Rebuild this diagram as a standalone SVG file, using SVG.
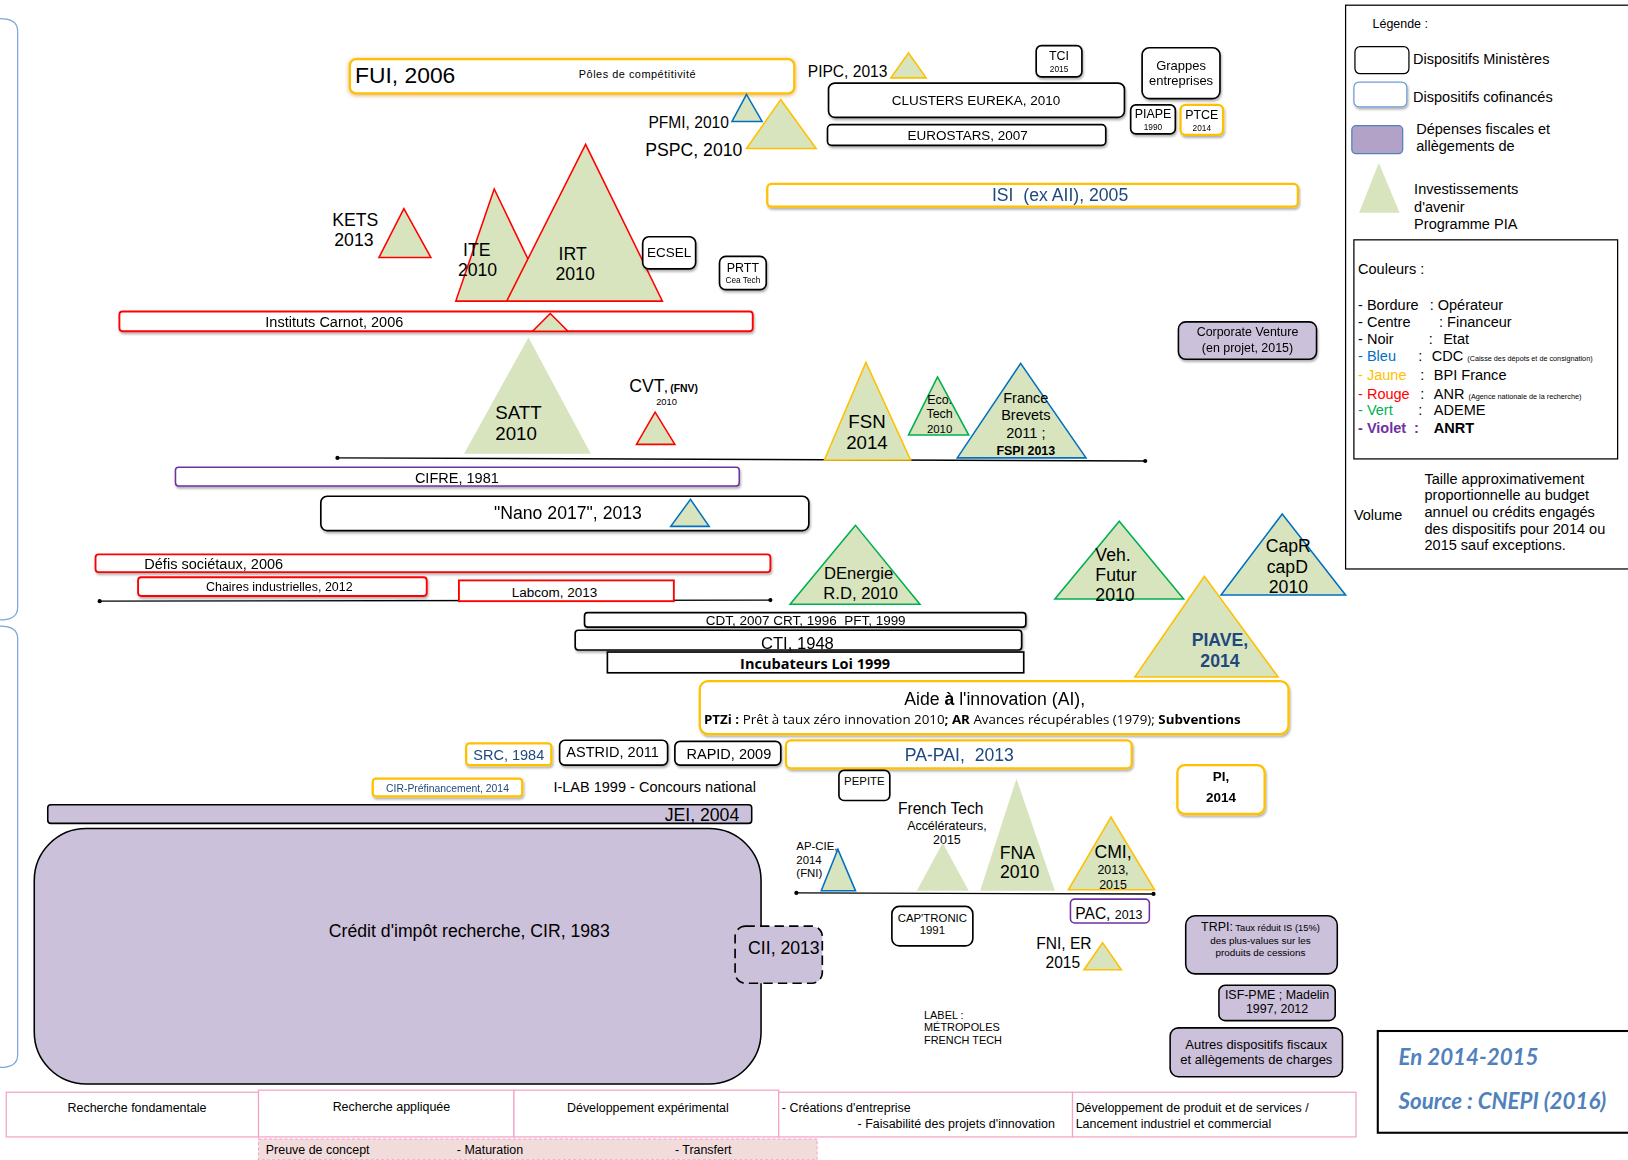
<svg xmlns="http://www.w3.org/2000/svg" width="1628" height="1160" viewBox="0 0 1628 1160">
<defs>
<filter id="sh" x="-10%" y="-30%" width="120%" height="170%"><feDropShadow dx="1" dy="2" stdDeviation="1.2" flood-color="#000" flood-opacity="0.3"/></filter>
<filter id="glow" x="-5%" y="-30%" width="110%" height="160%"><feDropShadow dx="0" dy="1" stdDeviation="2" flood-color="#d08a30" flood-opacity="0.7"/></filter>
</defs>
<style>
.m{text-anchor:middle}
.e{text-anchor:end}
.pre{white-space:pre}
.box{fill:#fff;stroke:#000;stroke-width:1.6}
.yb{fill:#fff;stroke:#ffc000;stroke-width:2.2}
.rb{fill:#fff;stroke:#ff0000;stroke-width:1.8}
.pb{fill:#fff;stroke:#7030a0;stroke-width:1.5}
.fisc{fill:#ccc1da;stroke:#000;stroke-width:1.5}
.tri{fill:#d7e4bd}
.tr{stroke:#ff0000;stroke-width:1.5}
.ty{stroke:#ffc000;stroke-width:1.5}
.tb{stroke:#0070c0;stroke-width:1.5}
.tg{stroke:#00b050;stroke-width:1.5}
.line{stroke:#000;stroke-width:1.3;fill:none}
.dot{fill:#000}
.phase{fill:#fff;stroke:#f4a3c8;stroke-width:1.2}
.db{fill:#1f497d}
.brk{fill:none;stroke:#7fa6d9;stroke-width:1.2}
.b{font-weight:bold}
.src{font-family:Lato,sans-serif;font-weight:bold;font-style:italic;fill:#4f81bd;font-size:21.5px}
.os{font-family:"Open Sans",sans-serif}
</style>
<rect width="1628" height="1160" fill="#fff"/>
<g transform="scale(1.03827)" font-family="Liberation Sans, Arial, sans-serif" fill="#000">

<g id="brackets">
<path class="brk" d="M0 18 Q17 18 17 30 L17 585 Q17 597 0 597"/>
<path class="brk" d="M0 603 Q17 603 17 615 L17 1016 Q17 1028 0 1028"/>
</g>

<g id="connectors">
<line class="line" x1="325" y1="441" x2="1103" y2="444"/><circle class="dot" cx="325" cy="441" r="2"/><circle class="dot" cx="1103" cy="444" r="2"/>
<line class="line" x1="96" y1="579" x2="742" y2="578"/><circle class="dot" cx="96" cy="579" r="2"/><circle class="dot" cx="742" cy="578" r="2"/>
<line class="line" x1="767" y1="860" x2="1111" y2="861"/><circle class="dot" cx="767" cy="860" r="2"/><circle class="dot" cx="1111" cy="861" r="2"/>
</g>

<g id="fui"><rect x="337" y="57" width="428" height="33" rx="6" class="yb" filter="url(#glow)"/>
<text x="342" y="80" font-size="22">FUI, 2006</text>
<text x="614" y="75" font-size="10.5" class="m" letter-spacing="0.5">Pôles de compétitivité</text></g>

<g id="pipc"><text x="778" y="74" font-size="15">PIPC, 2013</text>
<polygon class="tri ty" points="875,51 858,75 892,75"/></g>

<g id="tci" filter="url(#sh)"><rect x="998" y="44" width="44" height="30" rx="5" class="box"/>
<text x="1020" y="58" font-size="12" class="m">TCI</text><text x="1020" y="69" font-size="8" class="m">2015</text></g>

<g id="grappes" filter="url(#sh)"><rect x="1100" y="46" width="75" height="49" rx="7" class="box"/>
<text x="1137.5" y="67" font-size="12.5" class="m">Grappes</text><text x="1137.5" y="82" font-size="12.5" class="m">entreprises</text></g>

<g id="clusters" filter="url(#sh)"><rect x="798" y="80" width="285" height="33" rx="6" class="box"/>
<text x="940" y="101" font-size="13" class="m">CLUSTERS EUREKA, 2010</text></g>

<g id="piape" filter="url(#sh)"><rect x="1089" y="101" width="43" height="28" rx="5" class="box"/>
<text x="1110.5" y="114" font-size="12" class="m">PIAPE</text><text x="1110.5" y="125" font-size="8" class="m">1990</text></g>

<g id="ptce" filter="url(#sh)"><rect x="1137" y="101" width="41" height="29" rx="5" class="yb"/>
<text x="1157.5" y="115" font-size="12" class="m">PTCE</text><text x="1157.5" y="126" font-size="8" class="m">2014</text></g>

<g id="eurostars" filter="url(#sh)"><rect x="797" y="120" width="268" height="20" rx="4" class="box"/>
<text x="932" y="135" font-size="13" class="m">EUROSTARS, 2007</text></g>

<g id="pfmi"><polygon class="tri tb" points="719,91 705,117 734,117"/>
<text x="702" y="123" font-size="15" class="e">PFMI, 2010</text></g>

<g id="pspc"><polygon class="tri ty" points="752,96 719,143 786,143"/>
<text x="715" y="150" font-size="17" class="e">PSPC, 2010</text></g>

<g id="isi" filter="url(#sh)"><rect x="739" y="177" width="511" height="22" rx="4" class="yb"/>
<text x="1021" y="194" font-size="17" class="m db pre">ISI  (ex AII), 2005</text></g>

<g id="kets"><polygon class="tri tr" points="389,201 365,248 415,248"/>
<text x="320" y="218" font-size="17">KETS</text><text x="322" y="237" font-size="17">2013</text></g>

<g id="ite"><polygon class="tri tr" points="476,182 439,290 528,290"/>
<text x="446" y="247" font-size="17">ITE</text><text x="441" y="266" font-size="17">2010</text></g>

<g id="irt"><polygon class="tri tr" points="564,139 488,290 638,290"/>
<text x="538" y="250" font-size="17">IRT</text><text x="535" y="270" font-size="17">2010</text></g>

<g id="ecsel" filter="url(#sh)"><rect x="619" y="228" width="51" height="31" rx="6" class="box"/>
<text x="644.5" y="248" font-size="13" class="m">ECSEL</text></g>

<g id="prtt" filter="url(#sh)"><rect x="693" y="247" width="45" height="32" rx="6" class="box"/>
<text x="715.5" y="262" font-size="12" class="m">PRTT</text><text x="715.5" y="273" font-size="8" class="m">Cea Tech</text></g>

<g id="carnot" filter="url(#sh)"><rect x="115" y="300" width="610" height="19" rx="3" class="rb"/>
<text x="322" y="315" font-size="14" class="m">Instituts Carnot, 2006</text>
<polygon class="tri tr" points="530,302 513,319 547,319"/></g>

<g id="satt"><polygon class="tri" points="509,325 447,437 569,437"/>
<text x="477" y="404" font-size="18">SATT</text><text x="477" y="424" font-size="18">2010</text></g>

<g id="cvt"><text x="606" y="378" font-size="17">CVT<tspan font-size="10" font-weight="bold">, (FNV)</tspan></text>
<text x="642" y="390" font-size="9" class="m">2010</text>
<polygon class="tri tr" points="631,397 613,428 650,428"/></g>

<g id="fsn"><polygon class="tri ty" points="834,349 794,443 877,443"/>
<text x="835" y="412" font-size="18" class="m">FSN</text><text x="835" y="432" font-size="18" class="m">2014</text></g>

<g id="ecotech"><polygon class="tri tg" points="903,363 875,419 933,419"/>
<text x="905" y="389" font-size="12" class="m">Eco.</text><text x="905" y="403" font-size="12" class="m">Tech</text><text x="905" y="417" font-size="11" class="m">2010</text></g>

<g id="francebrevets"><polygon class="tri tb" points="983,350 922,441 1046,441"/>
<text x="988" y="388" font-size="14" class="m">France</text><text x="988" y="405" font-size="14" class="m">Brevets</text><text x="988" y="422" font-size="14" class="m">2011 ;</text>
<text x="988" y="438" font-size="12" class="m b">FSPI 2013</text></g>

<g id="corporate" filter="url(#sh)"><rect x="1135" y="310" width="133" height="36" rx="7" class="fisc"/>
<text x="1201.5" y="324" font-size="12" class="m">Corporate Venture</text><text x="1201.5" y="339" font-size="12" class="m">(en projet, 2015)</text></g>

<g id="cifre" filter="url(#sh)"><rect x="169" y="450" width="543" height="18" rx="3" class="pb"/>
<text x="440" y="465" font-size="14" class="m">CIFRE, 1981</text></g>

<g id="nano" filter="url(#sh)"><rect x="309" y="478" width="470" height="33" rx="6" class="box"/>
<text x="547" y="500" font-size="17" class="m">"Nano 2017", 2013</text>
<polygon class="tri tb" points="665,481 646,507 683,507"/></g>

<g id="defis" filter="url(#sh)"><rect x="92" y="534" width="650" height="17" rx="3" class="rb"/>
<text x="139" y="548" font-size="14">Défis sociétaux, 2006</text></g>

<g id="chaires" filter="url(#sh)"><rect x="133" y="556" width="278" height="18" rx="3" class="rb"/>
<text x="269" y="569" font-size="12" class="m">Chaires industrielles, 2012</text></g>

<g id="labcom"><rect x="442" y="559" width="207" height="20" class="rb"/>
<text x="534" y="575" font-size="13" class="m">Labcom, 2013</text></g>

<g id="denergie"><polygon class="tri tg" points="824,506 761,582 886,582"/>
<text x="827" y="558" font-size="16" class="m">DEnergie</text><text x="829" y="577" font-size="16" class="m">R.D, 2010</text></g>

<g id="cdt" filter="url(#sh)"><rect x="563" y="590" width="425" height="14" rx="3" class="box"/>
<text x="776" y="602" font-size="13" class="m pre">CDT, 2007 CRT, 1996  PFT, 1999</text></g>

<g id="cti" filter="url(#sh)"><rect x="554" y="607" width="430" height="19" rx="3" class="box"/>
<text x="768" y="625" font-size="16" class="m">CTI, 1948</text></g>

<g id="incub"><rect x="585" y="628" width="401" height="20" class="box"/>
<text x="785" y="644" font-size="14" class="m b os">Incubateurs Loi 1999</text></g>

<g id="vehfutur"><polygon class="tri tg" points="1078,502 1016,577 1140,577"/>
<text x="1055" y="540" font-size="17">Veh.</text><text x="1055" y="560" font-size="17">Futur</text><text x="1055" y="579" font-size="17">2010</text></g>

<g id="capr"><polygon class="tri tb" points="1235,495 1176,573 1296,573"/>
<text x="1219" y="532" font-size="17">CapR</text><text x="1220" y="552" font-size="17">capD</text><text x="1222" y="571" font-size="17">2010</text></g>

<g id="piave"><polygon class="tri ty" points="1160,555 1093,652 1231,652"/>
<text x="1175" y="622" font-size="17" class="m b db">PIAVE,</text><text x="1175" y="642" font-size="17" class="m b db">2014</text></g>

<g id="aide" filter="url(#sh)"><rect x="674" y="656" width="567" height="51" rx="8" class="yb"/>
<text x="958" y="679" font-size="17" class="m">Aide <tspan font-weight="bold">à</tspan> l'innovation (AI),</text>
<text x="678" y="697" font-size="11.5" class="os" textLength="517" lengthAdjust="spacingAndGlyphs"><tspan font-weight="bold">PTZi :</tspan> Prêt à taux zéro innovation 2010<tspan font-weight="bold">; AR</tspan> Avances récupérables (1979); <tspan font-weight="bold">Subventions</tspan></text></g>

<g id="src" filter="url(#sh)"><rect x="449" y="716" width="82" height="21" rx="3" class="yb"/>
<text x="490" y="732" font-size="14" class="m db">SRC, 1984</text></g>

<g id="astrid" filter="url(#sh)"><rect x="539" y="713" width="104" height="24" rx="5" class="box"/>
<text x="590" y="729" font-size="14" class="m">ASTRID, 2011</text></g>

<g id="rapid" filter="url(#sh)"><rect x="650" y="714" width="102" height="23" rx="5" class="box"/>
<text x="702" y="731" font-size="14" class="m">RAPID, 2009</text></g>

<g id="papai" filter="url(#sh)"><rect x="757" y="713" width="333" height="27" rx="5" class="yb"/>
<text x="924" y="733" font-size="17" class="m db pre">PA-PAI,  2013</text></g>

<g id="cirpre" filter="url(#sh)"><rect x="359" y="750" width="144" height="17" rx="3" class="yb" stroke-width="1.6"/>
<text x="431" y="763" font-size="10" class="m db">CIR-Préfinancement, 2014</text></g>

<g id="ilab"><text x="533" y="763" font-size="14">I-LAB 1999 - Concours national</text></g>

<g id="pepite"><rect x="808" y="742" width="49" height="29" rx="5" class="box"/>
<text x="832.5" y="756" font-size="11" class="m">PEPITE</text></g>

<g id="pi" filter="url(#sh)"><rect x="1134" y="737" width="84" height="47" rx="7" class="yb"/>
<text x="1176" y="752" font-size="13" class="m b">PI,</text><text x="1176" y="772" font-size="13" class="m b">2014</text></g>

<g id="jei"><rect x="46" y="775" width="678" height="18" rx="3" class="fisc"/>
<text x="712" y="791" font-size="17" class="e">JEI, 2004</text></g>

<g id="cir"><rect x="33" y="798" width="700" height="246" rx="50" class="fisc"/>
<text x="452" y="902" font-size="17" class="m">Crédit d'impôt recherche, CIR, 1983</text></g>

<g id="cii"><rect x="708" y="892" width="84" height="55" rx="10" fill="#ccc1da" stroke="#000" stroke-width="1.6" stroke-dasharray="9,5"/>
<text x="755" y="919" font-size="17" class="m">CII, 2013</text></g>

<g id="frenchtech"><text x="906" y="784" font-size="15" class="m">French Tech</text>
<text x="912" y="799" font-size="12" class="m">Accélérateurs,</text><text x="912" y="813" font-size="12" class="m">2015</text>
<polygon class="tri" points="908,812 883,858 933,858"/></g>

<g id="fna"><polygon class="tri" points="979,750 944,858 1016,858"/>
<text x="980" y="827" font-size="17" class="m">FNA</text><text x="982" y="846" font-size="17" class="m">2010</text></g>

<g id="cmi"><polygon class="tri ty" points="1070,787 1029,857 1112,857"/>
<text x="1072" y="826" font-size="17" class="m">CMI,</text><text x="1072" y="842" font-size="12" class="m">2013,</text><text x="1072" y="856" font-size="12" class="m">2015</text></g>

<g id="apcie"><polygon class="tri tb" points="807,818 791,858 824,858"/>
<text x="767" y="819" font-size="11">AP-CIE,</text><text x="767" y="832" font-size="11">2014</text><text x="767" y="845" font-size="11">(FNI)</text></g>

<g id="captronic"><rect x="859" y="873" width="78" height="38" rx="7" class="box"/>
<text x="898" y="888" font-size="11" class="m">CAP'TRONIC</text><text x="898" y="900" font-size="11" class="m">1991</text></g>

<g id="pac"><rect x="1031" y="866" width="76" height="23" rx="4" class="pb"/>
<text x="1068" y="885" font-size="15" class="m">PAC, <tspan font-size="12">2013</tspan></text></g>

<g id="fnier"><text x="998" y="914" font-size="15">FNI, ER</text><text x="1007" y="932" font-size="15">2015</text>
<polygon class="tri ty" points="1062,908 1044,934 1080,934"/></g>

<g id="trpi"><rect x="1142" y="882" width="146" height="56" rx="9" class="fisc"/>
<text x="1214" y="897" font-size="9" class="m"><tspan font-size="12">TRPI:</tspan> Taux réduit IS (15%)</text>
<text x="1214" y="909" font-size="9.5" class="m">des plus-values sur les</text>
<text x="1214" y="921" font-size="9.5" class="m">produits de cessions</text></g>

<g id="isfpme"><rect x="1174" y="949" width="112" height="34" rx="6" class="fisc"/>
<text x="1230" y="962" font-size="12" class="m">ISF-PME ; Madelin</text><text x="1230" y="976" font-size="12" class="m">1997, 2012</text></g>

<g id="autres"><rect x="1127" y="990" width="166" height="47" rx="8" class="fisc"/>
<text x="1210" y="1010" font-size="12.5" class="m">Autres dispositifs fiscaux</text><text x="1210" y="1025" font-size="12.5" class="m">et allègements de charges</text></g>

<g id="label"><text x="890" y="981" font-size="10.5">LABEL :</text><text x="890" y="993" font-size="10.5">MÉTROPOLES</text><text x="890" y="1006" font-size="10.5">FRENCH TECH</text></g>

<g id="phases">
<rect x="6" y="1052" width="243" height="43" class="phase"/>
<text x="132" y="1071" font-size="12" class="m">Recherche fondamentale</text>
<rect x="249" y="1050" width="246" height="45" class="phase"/>
<text x="377" y="1070" font-size="12" class="m">Recherche appliquée</text>
<rect x="495" y="1050" width="255" height="45" class="phase" stroke="#d9a0a8"/>
<text x="624" y="1071" font-size="12" class="m">Développement expérimental</text>
<rect x="750" y="1052" width="283" height="43" class="phase"/>
<text x="753" y="1071" font-size="12">- Créations d'entreprise</text>
<text x="1016" y="1086" font-size="12" class="e">- Faisabilité des projets d'innovation</text>
<rect x="1033" y="1052" width="273" height="43" class="phase"/>
<text x="1036" y="1071" font-size="12">Développement de produit et de services /</text>
<text x="1036" y="1086" font-size="12">Lancement industriel et commercial</text>
<rect x="249" y="1097" width="538" height="20" fill="#f2dcdb" stroke="#f4a3c8" stroke-width="1" stroke-dasharray="3,2"/>
<text x="256" y="1111" font-size="12">Preuve de concept</text>
<text x="440" y="1111" font-size="12">- Maturation</text>
<text x="650" y="1111" font-size="12">- Transfert</text>
</g>

<g id="source"><rect x="1327" y="993" width="270" height="98" fill="#fff" stroke="#000" stroke-width="2"/>
<text x="1347" y="1026" class="src">En 2014-2015</text>
<text x="1347" y="1068" class="src">Source : CNEPI (2016)</text></g>

<g id="legend">
<rect x="1296" y="5" width="290" height="543" fill="#fff" stroke="#000" stroke-width="1.2"/>
<text x="1322" y="27" font-size="12">Légende :</text>
<rect x="1305" y="45" width="52" height="26" rx="5" fill="#fff" stroke="#000" stroke-width="1.2"/>
<text x="1361" y="62" font-size="14">Dispositifs Ministères</text>
<rect x="1304" y="79" width="51" height="24" rx="5" fill="#fff" stroke="#6d9bd5" stroke-width="1.2" filter="url(#sh)"/>
<text x="1361" y="98" font-size="14">Dispositifs cofinancés</text>
<rect x="1302" y="121" width="49" height="27" rx="4" fill="#b3a2c7" stroke="#4f81bd" stroke-width="1.2"/>
<text x="1364" y="129" font-size="14">Dépenses fiscales et</text>
<text x="1364" y="145" font-size="14">allègements de</text>
<polygon class="tri" points="1328,157 1309,205 1348,205"/>
<text x="1362" y="187" font-size="14">Investissements</text>
<text x="1362" y="204" font-size="14">d'avenir</text>
<text x="1362" y="221" font-size="14">Programme PIA</text>
<rect x="1304" y="231" width="254" height="211" fill="#fff" stroke="#000" stroke-width="1.2"/>
<text x="1308" y="264" font-size="14">Couleurs :</text>
<text x="1308" y="299" font-size="14">- Bordure <tspan x="1377">: Opérateur</tspan></text>
<text x="1308" y="315" font-size="14">- Centre <tspan x="1386">: Financeur</tspan></text>
<text x="1308" y="331" font-size="14">- Noir <tspan x="1376">:</tspan><tspan x="1390">Etat</tspan></text>
<text x="1308" y="348" font-size="14"><tspan fill="#0070c0">- Bleu</tspan><tspan x="1366">:</tspan><tspan x="1379">CDC </tspan><tspan font-size="7">(Caisse des dépots et de consignation)</tspan></text>
<text x="1308" y="366" font-size="14"><tspan fill="#ffc000">- Jaune</tspan><tspan x="1368">:</tspan><tspan x="1381">BPI France</tspan></text>
<text x="1308" y="384" font-size="14"><tspan fill="#ff0000">- Rouge</tspan><tspan x="1368">:</tspan><tspan x="1381">ANR </tspan><tspan font-size="7">(Agence nationale de la recherche)</tspan></text>
<text x="1308" y="400" font-size="14"><tspan fill="#00b050">- Vert</tspan><tspan x="1366">:</tspan><tspan x="1381">ADEME</tspan></text>
<text x="1308" y="417" font-size="14" font-weight="bold"><tspan fill="#7030a0">- Violet</tspan><tspan x="1362" fill="#7030a0">:</tspan><tspan x="1381">ANRT</tspan></text>
<text x="1304" y="501" font-size="14">Volume</text>
<text x="1372" y="466" font-size="14">Taille approximativement</text>
<text x="1372" y="482" font-size="14">proportionnelle au budget</text>
<text x="1372" y="498" font-size="14">annuel ou crédits engagés</text>
<text x="1372" y="514" font-size="14">des dispositifs pour 2014 ou</text>
<text x="1372" y="530" font-size="14">2015 sauf exceptions.</text>
</g>

</g>
</svg>
